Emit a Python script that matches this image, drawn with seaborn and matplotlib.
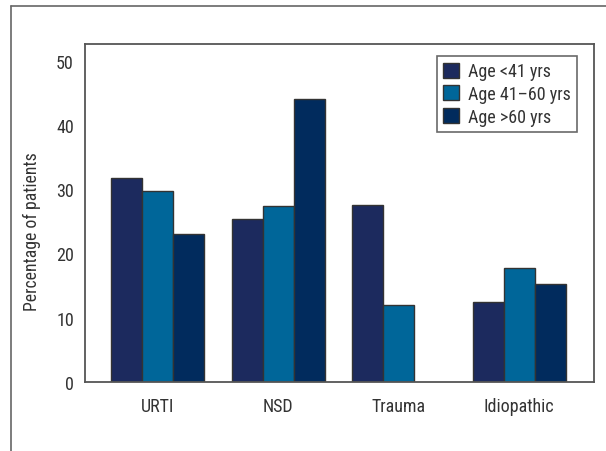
import numpy as np
import pandas as pd
import seaborn as sns
import matplotlib.pyplot as plt
from matplotlib.lines import Line2D
from matplotlib.patches import Patch

# values
categories = ['URTI', 'NSD', 'Trauma', 'Idiopathic']
age_groups = ['Age <41 yrs', 'Age 41\u201360 yrs', 'Age >60 yrs']
under_41 = [31.7, 25.3, 27.6, 12.5]
age_41_60 = [29.8, 27.4, 12.0, 17.8]
over_60 = [23.0, 44.1, np.nan, 15.3]
colors = ['#1c2a5e', '#006699', '#012b5d']
y_ticks = [0, 10, 20, 30, 40, 50]

df = pd.DataFrame({
    'cause': categories * 3,
    'group': [g for g in age_groups for _ in categories],
    'pct': under_41 + age_41_60 + over_60,
})

sns.set_style('white')
plt.rcParams['font.family'] = ['Roboto Condensed', 'DejaVu Sans']
plt.rcParams['font.stretch'] = 'condensed'
text_color = '#333333'

fig = plt.figure(figsize=(6.06, 4.52), dpi=100)
ax = fig.add_axes([85 / 606, 1 - 383 / 452, 509 / 606, 338 / 452])

sns.barplot(data=df, x='cause', y='pct', hue='group', hue_order=age_groups,
            palette=colors, saturation=1, width=0.775, edgecolor='#333333',
            linewidth=1, legend=False, ax=ax)

ax.set_xlim(-0.604, 3.62)
ax.set_ylim(0, 52.6)
ax.set_yticks(y_ticks)
ax.set_xlabel('')
ax.set_ylabel('Percentage of patients', fontsize=12.7, color=text_color)
ax.yaxis.set_label_coords(-0.086, 0.447)
ax.tick_params(axis='both', direction='out', length=5, width=1.2, colors='#444444',
               labelsize=13, labelcolor=text_color, pad=3)
ax.tick_params(axis='x', pad=6)
for s in ax.spines.values():
    s.set_color('#555555')
    s.set_linewidth(1.3)

handles = [Patch(facecolor=c, edgecolor='#333333', linewidth=1) for c in colors]
leg = ax.legend(handles, age_groups, loc='upper right', bbox_to_anchor=(0.967, 0.964),
                borderaxespad=0, fontsize=13, frameon=True, fancybox=False,
                handlelength=0.9, handleheight=0.9, handletextpad=0.5,
                labelspacing=0.25, borderpad=0.35, labelcolor=text_color)
leg.get_frame().set_edgecolor('#444444')
leg.get_frame().set_linewidth(1.2)

# outer frame around the figure (top and left edges)
fig.add_artist(Line2D([11 / 606, 1.0], [1 - 7 / 452, 1 - 7 / 452], color='#666666', lw=1.2))
fig.add_artist(Line2D([11 / 606, 11 / 606], [0.0, 1 - 7 / 452], color='#666666', lw=1.2))

fig.savefig('out.png', dpi=100)
